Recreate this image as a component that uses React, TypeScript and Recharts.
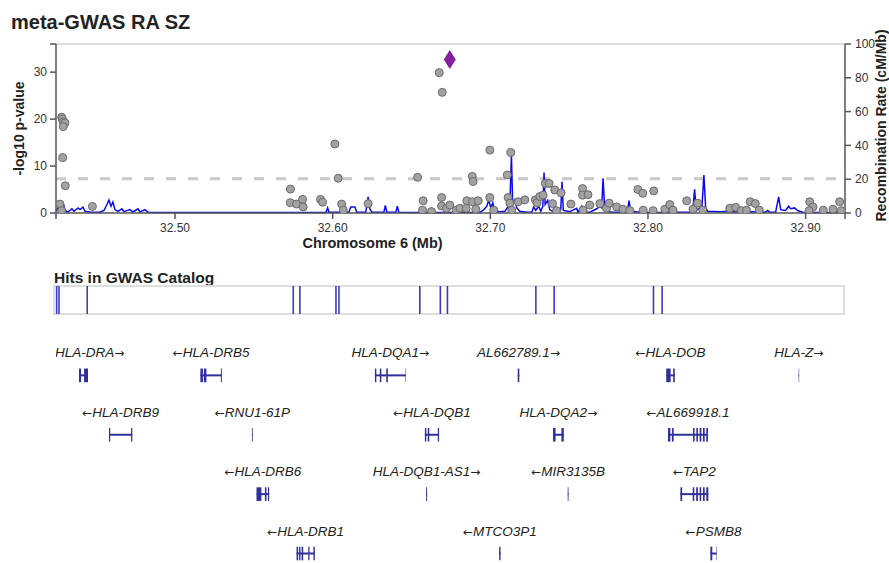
import React from 'react'
import {
  ComposedChart,
  Line,
  ReferenceArea,
  ReferenceLine,
  Scatter,
  XAxis,
  YAxis,
} from 'recharts'

// region shown, in Mb on chromosome 6
const X_DOMAIN: [number, number] = [32.4245, 32.925]
const xTicks = [32.4245, 32.5, 32.6, 32.7, 32.8, 32.9, 32.925]
const pTicks = [0, 10, 20, 30, 36]
const recombTicks = [0, 20, 40, 60, 80, 100]
const GWS_LINE = 7.3

const leadSnp = { pos: 32.6743, logp: 32.7 }

// [position Mb, -log10 p]
const snps: [number, number][] = [
  [32.427, 1.9], [32.4281, 0.5], [32.4281, 20.4], [32.4285, 20.0], [32.4291, 19.4],
  [32.4302, 19.2], [32.4291, 18.4], [32.4288, 11.8], [32.4304, 5.8], [32.4476, 1.4],
  [32.5732, 5.1], [32.5731, 2.2], [32.5771, 1.9], [32.5809, 2.9], [32.5813, 1.3],
  [32.5923, 2.9], [32.5936, 2.3], [32.6014, 14.7], [32.6035, 7.4], [32.6057, 1.9],
  [32.6068, 0.6], [32.6225, 2.0], [32.6539, 7.6], [32.6574, 2.6], [32.657, 0.6],
  [32.6627, 0.3], [32.6676, 29.9], [32.6695, 25.7], [32.6691, 3.3], [32.6691, 1.5],
  [32.6722, 1.0], [32.6743, 1.7], [32.6783, 0.6], [32.6807, 1.0], [32.6847, 1.0],
  [32.6851, 2.6], [32.6886, 7.8], [32.6891, 6.7], [32.6887, 2.4], [32.6908, 0.8],
  [32.6923, 2.6], [32.6997, 13.4], [32.6997, 3.3], [32.7022, 0.6], [32.7108, 8.1],
  [32.7113, 3.3], [32.7124, 2.1], [32.713, 12.9], [32.7136, 0.6], [32.7177, 2.4],
  [32.7219, 2.8], [32.7286, 2.8], [32.7297, 2.2], [32.7314, 3.5], [32.7335, 3.8],
  [32.7349, 6.3], [32.7373, 6.3], [32.7409, 4.9], [32.7449, 4.3], [32.7395, 2.0],
  [32.742, 0.5], [32.7511, 1.9], [32.7585, 5.2], [32.7585, 3.8], [32.762, 3.9],
  [32.7589, 0.6], [32.7631, 1.7], [32.7695, 2.0], [32.7737, 1.0], [32.7754, 2.1],
  [32.7802, 1.3], [32.7842, 0.8], [32.7885, 0.5], [32.7936, 5.0], [32.7967, 4.2],
  [32.797, 0.6], [32.8037, 4.7], [32.8033, 0.5], [32.8107, 0.8], [32.8138, 1.8],
  [32.8159, 0.6], [32.8246, 2.6], [32.8286, 0.8], [32.8315, 2.1], [32.8348, 0.6],
  [32.8519, 1.0], [32.8557, 1.2], [32.8593, 0.5], [32.8625, 0.6], [32.8648, 2.4],
  [32.8681, 2.0], [32.8706, 0.6], [32.9026, 2.4], [32.9047, 1.3], [32.9022, 0.5],
  [32.9112, 0.6], [32.9174, 0.8], [32.9216, 2.4], [32.9227, 0.5],
]

// [position Mb, cM/Mb]
const recomb: [number, number][] = [
  [32.4245, 1.0], [32.4258, 3.0], [32.427, 1.0], [32.4283, 4.5], [32.4293, 5.0],
  [32.4302, 1.5], [32.4321, 0.5], [32.4346, 2.5], [32.4359, 1.0], [32.4385, 3.0],
  [32.4397, 2.0], [32.4416, 3.5], [32.4429, 1.0], [32.4461, 0.6], [32.4524, 0.5],
  [32.4549, 1.5], [32.4568, 5.0], [32.4581, 7.7], [32.4594, 4.0], [32.4606, 6.5],
  [32.4619, 2.0], [32.4638, 1.0], [32.4663, 2.5], [32.4676, 0.8], [32.4714, 2.0],
  [32.4733, 0.6], [32.4765, 2.5], [32.4778, 0.6], [32.4809, 2.0], [32.4828, 0.5],
  [32.4873, 0.3], [32.5158, 0.3], [32.5475, 0.3], [32.5792, 0.3], [32.5957, 0.3],
  [32.5968, 3.0], [32.5976, 0.4], [32.6046, 0.5], [32.6058, 2.5], [32.6071, 0.8],
  [32.6103, 0.5], [32.6115, 3.5], [32.6141, 3.5], [32.6153, 0.5], [32.621, 0.5],
  [32.6225, 9.6], [32.6236, 2.5], [32.6248, 0.5], [32.6325, 0.5], [32.6334, 4.5],
  [32.6344, 0.5], [32.6401, 0.5], [32.641, 4.0], [32.642, 0.5], [32.654, 0.3],
  [32.6933, 0.3], [32.6959, 2.0], [32.6978, 4.0], [32.699, 7.7], [32.7003, 3.0],
  [32.7016, 6.0], [32.7028, 1.0], [32.706, 0.8], [32.7092, 1.0], [32.7111, 3.5],
  [32.7123, 2.0], [32.7134, 34], [32.7142, 5.0], [32.7155, 7.7], [32.7168, 3.0],
  [32.7187, 1.0], [32.7231, 0.5], [32.7263, 0.6], [32.7276, 3.5], [32.7288, 1.5],
  [32.7307, 4.0], [32.732, 1.0], [32.7333, 4.0], [32.7341, 24], [32.7348, 5.0],
  [32.7364, 7.5], [32.7377, 2.0], [32.7396, 1.0], [32.7428, 1.5], [32.7447, 2.0],
  [32.7455, 18.5], [32.7463, 1.5], [32.7504, 0.8], [32.7548, 2.8], [32.7555, 0.5],
  [32.758, 4.0], [32.7593, 0.6], [32.7631, 0.5], [32.7675, 2.5], [32.7694, 4.0],
  [32.7707, 3.0], [32.7715, 20.5], [32.7726, 3.0], [32.7738, 1.0], [32.777, 0.5],
  [32.7821, 0.5], [32.7859, 0.6], [32.7872, 2.5], [32.788, 7.3], [32.7891, 1.0],
  [32.7948, 0.5], [32.8074, 0.3], [32.8201, 0.4], [32.8265, 0.5], [32.8284, 1.5],
  [32.8296, 14], [32.8306, 1.5], [32.8328, 3.0], [32.8341, 1.5], [32.8355, 22.5],
  [32.8366, 3.0], [32.8379, 1.0], [32.8455, 0.7], [32.8518, 1.0], [32.8582, 0.5],
  [32.8645, 0.8], [32.8746, 0.5], [32.8759, 1.5], [32.8772, 0.5], [32.881, 0.5],
  [32.8829, 9.6], [32.8842, 2.0], [32.8873, 1.5], [32.8892, 4.0], [32.8905, 2.5],
  [32.893, 3.0], [32.8949, 1.5], [32.8981, 0.5], [32.9089, 0.3], [32.9247, 0.3],
]

const catalogHits = [
  32.4249, 32.4264, 32.4443, 32.575, 32.5792, 32.6021, 32.604, 32.6553,
  32.6683, 32.6728, 32.7289, 32.7405, 32.8035, 32.809,
]

type Gene = { name: string; strand: '+' | '-'; row: number; exons: [number, number][] }

const genes: Gene[] = [
  { name: 'HLA-DRA', strand: '+', row: 1, exons: [[32.4391, 32.4404], [32.4423, 32.4448]] },
  { name: 'HLA-DRB5', strand: '-', row: 1, exons: [[32.5161, 32.5177], [32.5183, 32.5199], [32.5291, 32.5297]] },
  { name: 'HLA-DQA1', strand: '+', row: 1, exons: [[32.6268, 32.6277], [32.6299, 32.6309], [32.634, 32.635], [32.6461, 32.6464]] },
  { name: 'AL662789.1', strand: '+', row: 1, exons: [[32.7174, 32.7184]] },
  { name: 'HLA-DOB', strand: '-', row: 1, exons: [[32.8116, 32.8144], [32.816, 32.817]] },
  { name: 'HLA-Z', strand: '+', row: 1, exons: [[32.8956, 32.8959]] },
  { name: 'HLA-DRB9', strand: '-', row: 2, exons: [[32.4581, 32.4589], [32.4721, 32.4729]] },
  { name: 'RNU1-61P', strand: '-', row: 2, exons: [[32.5488, 32.5493]] },
  { name: 'HLA-DQB1', strand: '-', row: 2, exons: [[32.6585, 32.6594], [32.6603, 32.6613], [32.6667, 32.6675]] },
  { name: 'HLA-DQA2', strand: '+', row: 2, exons: [[32.7398, 32.7414], [32.7451, 32.7466]] },
  {
    name: 'AL669918.1', strand: '-', row: 2,
    exons: [[32.8127, 32.8142], [32.8152, 32.8163], [32.8286, 32.8296], [32.8307, 32.8317], [32.8328, 32.8339], [32.8349, 32.836], [32.837, 32.8381]],
  },
  { name: 'HLA-DRB6', strand: '-', row: 3, exons: [[32.5517, 32.5548], [32.557, 32.558], [32.5589, 32.5597]] },
  { name: 'HLA-DQB1-AS1', strand: '+', row: 3, exons: [[32.6593, 32.6599]] },
  { name: 'MIR3135B', strand: '-', row: 3, exons: [[32.7491, 32.7496]] },
  {
    name: 'TAP2', strand: '-', row: 3,
    exons: [[32.8206, 32.8217], [32.8284, 32.8294], [32.8306, 32.8317], [32.8328, 32.8338], [32.8349, 32.836], [32.837, 32.8383]],
  },
  { name: 'HLA-DRB1', strand: '-', row: 4, exons: [[32.5771, 32.5781], [32.5787, 32.5796], [32.5803, 32.5813], [32.5845, 32.5853], [32.5878, 32.5887]] },
  { name: 'MTCO3P1', strand: '-', row: 4, exons: [[32.7056, 32.7065]] },
  { name: 'PSMB8', strand: '-', row: 4, exons: [[32.8396, 32.8408], [32.8433, 32.8436]] },
]

const GENE_COLOR = '#30309c'
const HIT_COLOR = '#3c3cc0'
const FONT = '"Liberation Sans", Arial, Helvetica, sans-serif'

const snpData = snps.map(([pos, logp]) => ({ pos, logp }))
const recombData = recomb.map(([pos, rate]) => ({ pos, rate }))
const hitData = catalogHits.map((pos) => ({ pos, mid: 0.5 }))
const geneSpans = genes.map((g) => {
  const start = Math.min(...g.exons.map((e) => e[0]))
  const end = Math.max(...g.exons.map((e) => e[1]))
  return { ...g, start, end, pos: (start + end) / 2 }
})

const SnpDot = ({ cx, cy }: any) => {
  if (cx == null || cy == null) return null
  return <circle cx={cx} cy={cy} r={4} fill="#a2a2a2" stroke="#6a6a6a" strokeWidth={1} />
}

const LeadDiamond = ({ cx, cy }: any) => {
  if (cx == null || cy == null) return null
  return <path d={`M${cx},${cy - 9.5}L${cx + 6},${cy}L${cx},${cy + 9.5}L${cx - 6},${cy}Z`} fill="#82209e" />
}

const NoMark = () => <g />

const AxisTitle = ({ viewBox, text, offX = 0, offY = 0, rot = 0, size = 14 }: any) => {
  const x = viewBox.x + viewBox.width / 2 + offX
  const y = viewBox.y + viewBox.height / 2 + offY
  return (
    <text
      x={x}
      y={y}
      transform={rot ? `rotate(${rot} ${x} ${y})` : undefined}
      textAnchor="middle"
      dominantBaseline="central"
      fontWeight="bold"
      fontSize={size}
      fill="#222"
    >
      {text}
    </text>
  )
}

const arrowStyle = { fontFamily: '"DejaVu Sans", sans-serif', fontStyle: 'normal', fontSize: 12 } as const

const GeneLabel = ({ cx, cy, payload }: any) => {
  if (cx == null || cy == null) return null
  const est = (payload.name.length + 1.5) * 7.6
  const clamp = cx - est / 2 < 55
  const fwd = payload.strand === '+'
  return (
    <text
      x={clamp ? 55 : cx}
      y={cy - 18}
      textAnchor={clamp ? 'start' : 'middle'}
      fontStyle="italic"
      fontSize={13.5}
      fill="#222"
    >
      {!fwd && <tspan style={arrowStyle}>←</tspan>}
      {payload.name}
      {fwd && <tspan style={arrowStyle}>→</tspan>}
    </text>
  )
}

const tickStyle = { fontSize: 12, fill: '#333' }
const axisColor = { stroke: '#555', strokeWidth: 1.5 }

export default function App() {
  return (
    <div style={{ position: 'absolute', left: 0, top: 0, width: 889, height: 563, background: '#fff', fontFamily: FONT, overflow: 'hidden' }}>
      <svg width={889} height={563} style={{ position: 'absolute', left: 0, top: 0 }}>
        <text x={11} y={29} fontSize={20} fontWeight="bold" fill="#222">meta-GWAS RA SZ</text>
        <text x={54} y={282.5} fontSize={15.5} fontWeight="bold" fill="#222">Hits in GWAS Catalog</text>
        <rect x={54} y={286} width={790} height={28} fill="none" stroke="#dedede" strokeWidth={2} />
      </svg>

      {/* association panel */}
      <div style={{ position: 'absolute', left: 0, top: 0 }}>
        <ComposedChart width={889} height={253} margin={{ top: 44, right: 0, bottom: 0, left: 10 }}>
          <XAxis
            type="number"
            dataKey="pos"
            domain={X_DOMAIN}
            ticks={xTicks}
            allowDataOverflow
            tickFormatter={(v: number) => (v === X_DOMAIN[0] || v === X_DOMAIN[1] ? '' : v.toFixed(2))}
            tick={tickStyle}
            tickSize={6}
            tickMargin={4}
            axisLine={axisColor}
            tickLine={axisColor}
            height={40}
            label={<AxisTitle text="Chromosome 6 (Mb)" offX={-78} offY={10} size={14.5} />}
          />
          <YAxis
            yAxisId="p"
            type="number"
            domain={[0, 36]}
            ticks={pTicks}
            allowDataOverflow
            tickFormatter={(v: number) => (v === 36 ? '' : String(v))}
            tick={tickStyle}
            tickSize={6}
            tickMargin={3}
            axisLine={axisColor}
            tickLine={axisColor}
            width={46}
            label={<AxisTitle text="-log10 p-value" offX={-14.5} rot={-90} />}
          />
          <YAxis
            yAxisId="r"
            orientation="right"
            type="number"
            domain={[0, 100]}
            ticks={recombTicks}
            tick={tickStyle}
            tickSize={6}
            tickMargin={4}
            axisLine={axisColor}
            tickLine={axisColor}
            width={44}
            label={<AxisTitle text="Recombination Rate (cM/Mb)" offX={14} offY={-3} rot={-90} />}
          />
          <ReferenceLine yAxisId="p" y={36} stroke="#dcdcdc" strokeWidth={2} />
          <ReferenceLine yAxisId="p" y={GWS_LINE} stroke="#c8c8c8" strokeWidth={3} strokeDasharray="10 12" />
          <Line
            yAxisId="r"
            data={recombData}
            dataKey="rate"
            type="linear"
            stroke="#0a0af0"
            strokeWidth={1.5}
            dot={false}
            activeDot={false}
            isAnimationActive={false}
          />
          <Scatter yAxisId="p" data={snpData} dataKey="logp" shape={SnpDot} isAnimationActive={false} />
          <Scatter yAxisId="p" data={[leadSnp]} dataKey="logp" shape={LeadDiamond} isAnimationActive={false} />
        </ComposedChart>
      </div>

      {/* GWAS catalog hits */}
      <div style={{ position: 'absolute', left: 0, top: 286 }}>
        <ComposedChart width={889} height={28} margin={{ top: 0, right: 44, bottom: 0, left: 56 }}>
          <XAxis type="number" dataKey="pos" domain={X_DOMAIN} allowDataOverflow hide />
          <YAxis type="number" domain={[0, 1]} hide />
          {catalogHits.map((h, i) => (
            <ReferenceLine key={i} x={h} stroke={HIT_COLOR} strokeWidth={1.6} />
          ))}
          <Scatter data={hitData} dataKey="mid" shape={NoMark} isAnimationActive={false} />
        </ComposedChart>
      </div>

      {/* gene track */}
      <div style={{ position: 'absolute', left: 0, top: 316 }}>
        <ComposedChart width={889} height={247} margin={{ top: 0, right: 44, bottom: 0, left: 56 }}>
          <XAxis type="number" dataKey="pos" domain={X_DOMAIN} allowDataOverflow hide />
          <YAxis type="number" domain={[0, 4.16]} reversed hide />
          {geneSpans.map((g) => (
            <ReferenceLine
              key={`l-${g.name}`}
              segment={[{ x: g.start, y: g.row }, { x: g.end, y: g.row }]}
              stroke={GENE_COLOR}
              strokeWidth={2}
            />
          ))}
          {geneSpans.flatMap((g) =>
            g.exons.map((e, i) => (
              <ReferenceArea
                key={`e-${g.name}-${i}`}
                x1={e[0]}
                x2={e[1]}
                y1={g.row - 0.115}
                y2={g.row + 0.115}
                fill={GENE_COLOR}
                fillOpacity={1}
                stroke="none"
              />
            )),
          )}
          <Scatter data={geneSpans} dataKey="row" shape={GeneLabel} isAnimationActive={false} />
        </ComposedChart>
      </div>
    </div>
  )
}
